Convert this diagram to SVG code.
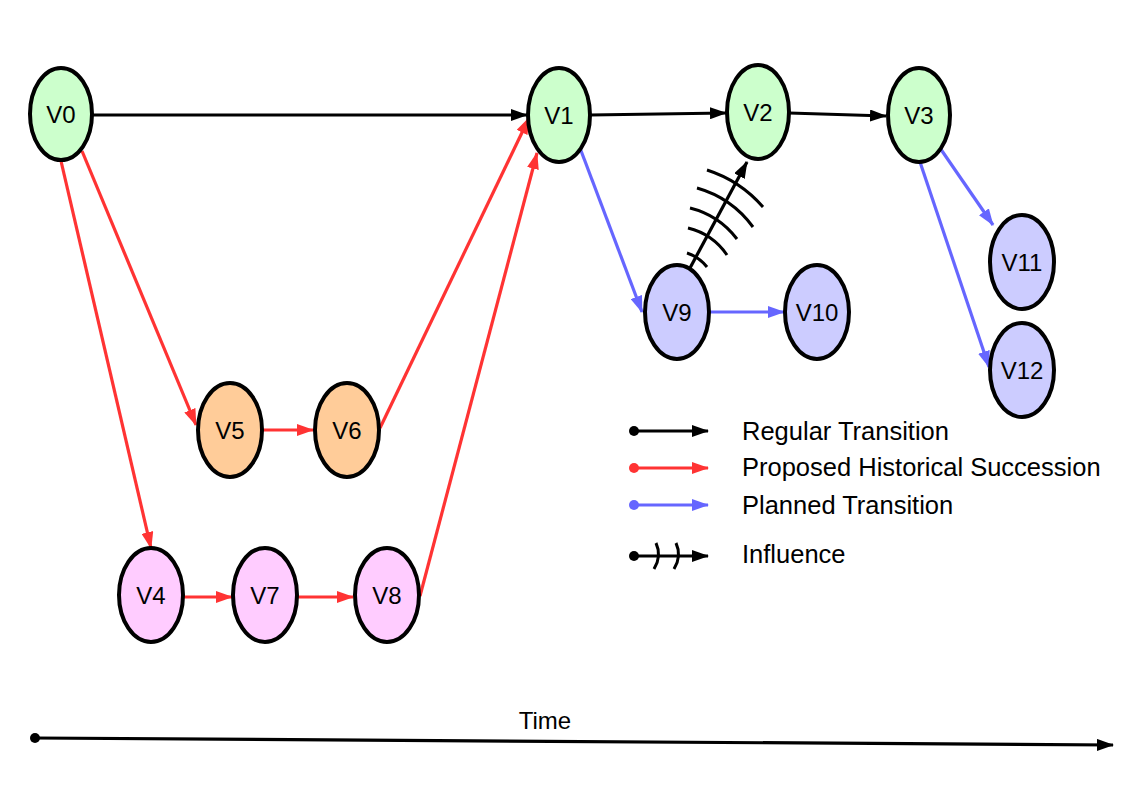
<svg xmlns="http://www.w3.org/2000/svg" width="1123" height="794" viewBox="0 0 1123 794">
<defs>
<style>
.node ellipse{stroke:#000;stroke-width:4}
.g{fill:#ccffcc}.o{fill:#ffcc99}.p{fill:#ffccff}.b{fill:#ccccff}
text{font-family:"Liberation Sans",Arial,sans-serif;font-size:24px;fill:#000}
.node text{text-anchor:middle}
.leg{font-size:25.5px}
.k{stroke:#000;stroke-width:3.2;fill:none}
.r{stroke:#ff3333;stroke-width:3.2;fill:none}
.u{stroke:#6666ff;stroke-width:3.2;fill:none}
.arc{stroke:#000;stroke-width:3;fill:none}
</style>
<marker id="ak" markerUnits="userSpaceOnUse" markerWidth="18" markerHeight="12" refX="16" refY="6" orient="auto"><path d="M0,0 L17,6 L0,12 Z" fill="#000"/></marker>
<marker id="ar" markerUnits="userSpaceOnUse" markerWidth="18" markerHeight="12" refX="16" refY="6" orient="auto"><path d="M0,0 L17,6 L0,12 Z" fill="#ff3333"/></marker>
<marker id="au" markerUnits="userSpaceOnUse" markerWidth="18" markerHeight="12" refX="16" refY="6" orient="auto"><path d="M0,0 L17,6 L0,12 Z" fill="#6666ff"/></marker>
</defs>
<rect width="1123" height="794" fill="#fff"/>
<g id="connectors">
<line class="k" x1="92" y1="115" x2="527" y2="115" marker-end="url(#ak)"/>
<line class="k" x1="590" y1="115" x2="726" y2="113" marker-end="url(#ak)"/>
<line class="k" x1="789" y1="113" x2="886" y2="116" marker-end="url(#ak)"/>
<line class="r" x1="82" y1="151" x2="196" y2="425" marker-end="url(#ar)"/>
<line class="r" x1="61" y1="161" x2="151" y2="548" marker-end="url(#ar)"/>
<line class="r" x1="263" y1="430" x2="313" y2="430" marker-end="url(#ar)"/>
<line class="r" x1="380" y1="428" x2="529" y2="118" marker-end="url(#ar)"/>
<line class="r" x1="183" y1="597" x2="232" y2="597" marker-end="url(#ar)"/>
<line class="r" x1="298" y1="597" x2="353" y2="597" marker-end="url(#ar)"/>
<line class="r" x1="420" y1="596" x2="537" y2="153" marker-end="url(#ar)"/>
<line class="u" x1="580" y1="148" x2="642" y2="312" marker-end="url(#au)"/>
<line class="u" x1="710" y1="312" x2="784" y2="312" marker-end="url(#au)"/>
<line class="u" x1="940" y1="148" x2="993" y2="225" marker-end="url(#au)"/>
<line class="u" x1="920" y1="162" x2="989" y2="367" marker-end="url(#au)"/>
<g id="influence">
<line class="k" x1="690" y1="268" x2="747" y2="162" marker-end="url(#ak)"/>
<path class="arc" d="M707,170 A125,125 0 0 1 763,207"/>
<path class="arc" d="M697,188 A105,105 0 0 1 753,227"/>
<path class="arc" d="M690,208 A85,85 0 0 1 737,239"/>
<path class="arc" d="M688,228 A66,66 0 0 1 727,255"/>
<path class="arc" d="M687,253 A42,42 0 0 1 707,267"/>
</g>
</g>
<g id="V0" class="node"><ellipse class="g" cx="61" cy="114" rx="31" ry="46"/><text x="61" y="123">V0</text></g>
<g id="V1" class="node"><ellipse class="g" cx="559" cy="115" rx="31" ry="47"/><text x="559" y="124">V1</text></g>
<g id="V2" class="node"><ellipse class="g" cx="758" cy="112" rx="31" ry="47"/><text x="758" y="121">V2</text></g>
<g id="V3" class="node"><ellipse class="g" cx="919" cy="115" rx="31" ry="47"/><text x="919" y="124">V3</text></g>
<g id="V5" class="node"><ellipse class="o" cx="230" cy="430" rx="32" ry="47"/><text x="230" y="439">V5</text></g>
<g id="V6" class="node"><ellipse class="o" cx="347" cy="430" rx="32" ry="47"/><text x="347" y="439">V6</text></g>
<g id="V4" class="node"><ellipse class="p" cx="151" cy="595" rx="32" ry="47"/><text x="151" y="604">V4</text></g>
<g id="V7" class="node"><ellipse class="p" cx="265" cy="595" rx="32" ry="47"/><text x="265" y="604">V7</text></g>
<g id="V8" class="node"><ellipse class="p" cx="387" cy="595" rx="32" ry="47"/><text x="387" y="604">V8</text></g>
<g id="V9" class="node"><ellipse class="b" cx="677" cy="312" rx="32" ry="47"/><text x="677" y="321">V9</text></g>
<g id="V10" class="node"><ellipse class="b" cx="817" cy="312" rx="32" ry="47"/><text x="817" y="321">V10</text></g>
<g id="V11" class="node"><ellipse class="b" cx="1022" cy="262" rx="32" ry="47"/><text x="1022" y="271">V11</text></g>
<g id="V12" class="node"><ellipse class="b" cx="1022" cy="370" rx="32" ry="47"/><text x="1022" y="379">V12</text></g>
<g id="legend">
<circle cx="634" cy="431" r="5" fill="#000"/><line class="k" x1="634" y1="431" x2="708" y2="431" marker-end="url(#ak)"/>
<circle cx="634" cy="468" r="5" fill="#ff3333"/><line class="r" x1="634" y1="468" x2="708" y2="468" marker-end="url(#ar)"/>
<circle cx="634" cy="505" r="5" fill="#6666ff"/><line class="u" x1="634" y1="505" x2="708" y2="505" marker-end="url(#au)"/>
<circle cx="634" cy="556" r="5" fill="#000"/><line class="k" x1="634" y1="556" x2="708" y2="556" marker-end="url(#ak)"/>
<path class="arc" d="M656,543 Q662,556 654,569"/>
<path class="arc" d="M676,543 Q682,556 674,569"/>
<text class="leg" x="742" y="440">Regular Transition</text>
<text class="leg" x="742" y="476">Proposed Historical Succession</text>
<text class="leg" x="742" y="514">Planned Transition</text>
<text class="leg" x="742" y="563">Influence</text>
</g>
<g id="time">
<circle cx="35" cy="738" r="5" fill="#000"/>
<line class="k" x1="35" y1="738" x2="1113" y2="745" marker-end="url(#ak)"/>
<text x="545" y="729" text-anchor="middle">Time</text>
</g>
</svg>
